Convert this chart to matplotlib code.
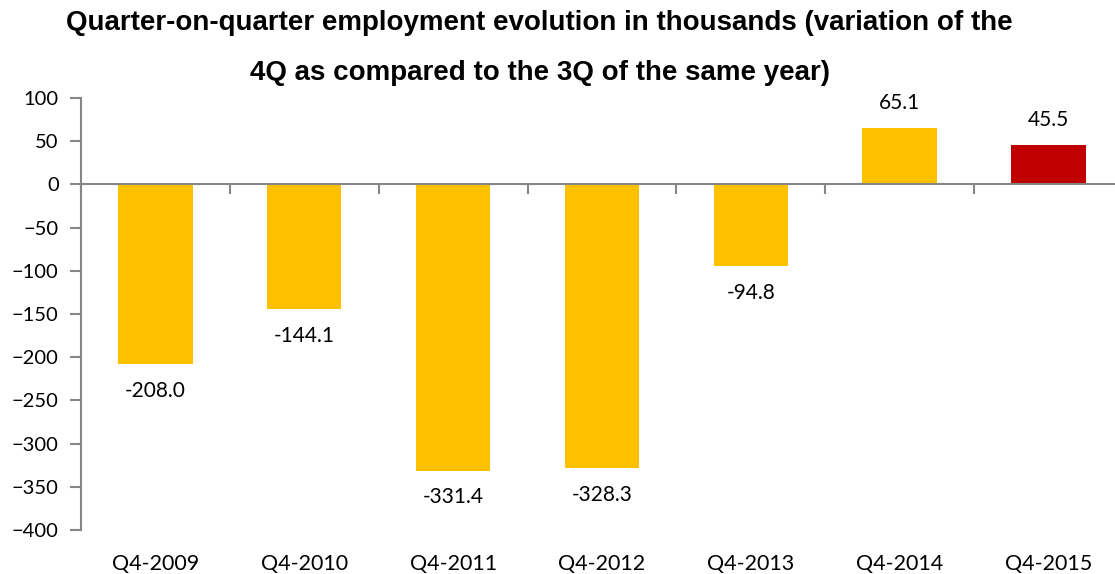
import numpy as np
import matplotlib.pyplot as plt

quarters = ["Q4-2009", "Q4-2010", "Q4-2011", "Q4-2012", "Q4-2013", "Q4-2014", "Q4-2015"]
change = [-208.0, -144.1, -331.4, -328.3, -94.8, 65.1, 45.5]
bar_colors = ["#FFC000"] * 6 + ["#C00000"]

label_font = "Lato"
grey = "#868686"

fig = plt.figure(figsize=(11.15, 5.74), dpi=100)
ax = fig.add_axes([0.0726, 0.0767, 0.9345, 0.7526])

x = np.arange(len(quarters))
ax.bar(x, change, width=0.5, color=bar_colors, zorder=2)

ax.set_xlim(-0.5, len(quarters) - 0.5)
ax.set_ylim(-400, 100)
ax.set_yticks(np.arange(-400, 101, 50))

for s in ["top", "right"]:
    ax.spines[s].set_visible(False)
ax.spines["left"].set_color(grey)
ax.spines["left"].set_linewidth(1.5)
ax.spines["bottom"].set_position(("data", 0))
ax.spines["bottom"].set_color(grey)
ax.spines["bottom"].set_linewidth(1.5)

ax.tick_params(axis="y", direction="out", length=8, width=1.5, color=grey,
               labelsize=14.5, pad=8)
for t in ax.get_yticklabels():
    t.set_fontfamily(label_font)

# category boundaries as ticks on the zero line
ax.set_xticks(x)
ax.tick_params(axis="x", which="major", length=0, labelbottom=False)
ax.set_xticks(np.arange(len(quarters) + 1) - 0.5, minor=True)
ax.tick_params(axis="x", which="minor", direction="out", length=7, width=1.5, color=grey)

for i, q in enumerate(quarters):
    ax.text(i, -0.055, q, transform=ax.get_xaxis_transform(), ha="center", va="top",
            fontsize=15.5, fontfamily=label_font)

for i, v in enumerate(change):
    off = 11 if v > 0 else -12
    ax.annotate(f"{v:.1f}", (i, v), xytext=(0, off), textcoords="offset points",
                ha="center", va="bottom" if v > 0 else "top",
                fontsize=15, fontfamily=label_font)

fig.text(0.484, 0.96, "Quarter-on-quarter employment evolution in thousands (variation of the",
         ha="center", va="center", fontsize=20, fontweight="bold", fontfamily="Liberation Sans")
fig.text(0.484, 0.872, "4Q as compared to the 3Q of the same year)",
         ha="center", va="center", fontsize=20, fontweight="bold", fontfamily="Liberation Sans")

fig.savefig("out.png", dpi=100)
